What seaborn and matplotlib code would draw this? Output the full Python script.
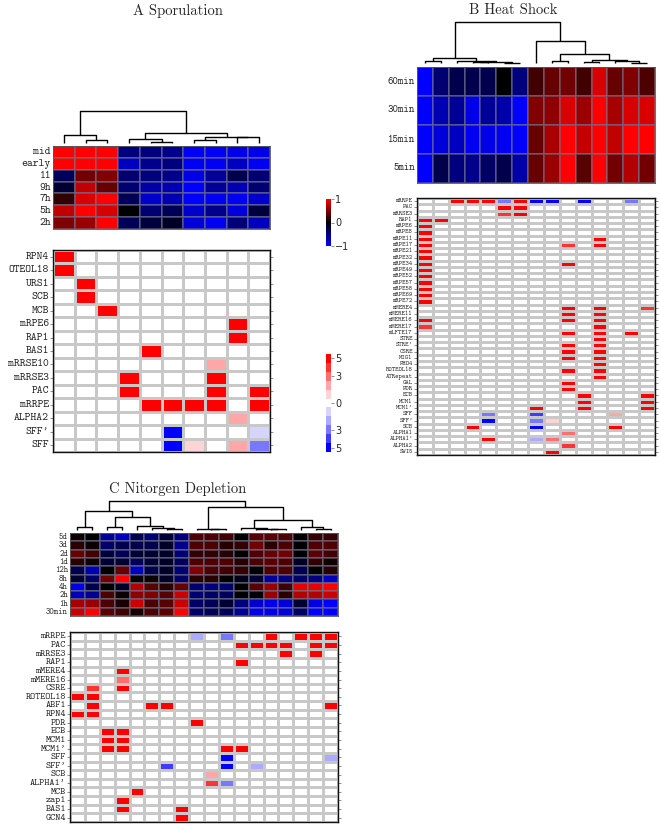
import numpy as np
import pandas as pd
import matplotlib
matplotlib.use("Agg")
import matplotlib.pyplot as plt
import seaborn as sns
from matplotlib.colors import LinearSegmentedColormap, ListedColormap

# ---------------- data ----------------
A_title = "A Sporulation"
A_rows = ["mid", "early", "11", "9h", "7h", "5h", "2h"]
A_expr = [
    [1, 1, 1, -0.5, -0.5, -0.55, -0.95, -0.95, -0.9, -0.9],
    [1, 1, 1, -0.75, -0.55, -0.5, -0.95, -0.95, -0.75, -0.95],
    [-0.35, 0.45, 0.5, -0.45, -0.5, -0.55, -0.9, -0.6, -0.3, -0.45],
    [-0.2, 0.75, 0.4, -0.45, -0.65, -0.7, -1, -0.6, -0.7, -0.45],
    [0.2, 0.85, 1, -0.35, -0.8, -0.7, -1, -0.95, -0.95, -0.8],
    [0.75, 1, 0.85, 0.0, -0.45, -0.35, -0.8, -0.55, -0.85, -0.25],
    [0.5, 0.6, 1, -0.35, -0.25, -0.15, -0.85, -0.95, -0.5, -0.75],
]
A_link_left = [1, 0, 4, 3, 6, 8, 14, 13, 11]
A_link_right = [2, 10, 5, 12, 7, 9, 15, 16, 17]
A_link_height = [9, 24, 3, 12, 9, 17, 19, 29, 94]
A_motifs = ["RPN4", "OTEOL18", "URS1", "SCB", "MCB", "mRPE6", "RAP1", "BAS1",
            "mRRSE10", "mRRSE3", "PAC", "mRRPE", "ALPHA2", "SFF'", "SFF"]
A_hits = [("RPN4", 0, 5), ("OTEOL18", 0, 5), ("URS1", 1, 5), ("SCB", 1, 5),
          ("MCB", 2, 5), ("mRPE6", 8, 5), ("RAP1", 8, 5), ("BAS1", 4, 5),
          ("mRRSE10", 7, 2), ("mRRSE3", 3, 5), ("mRRSE3", 7, 5),
          ("PAC", 3, 5), ("PAC", 7, 5), ("PAC", 9, 5),
          ("mRRPE", 4, 5), ("mRRPE", 5, 5), ("mRRPE", 6, 5), ("mRRPE", 7, 5), ("mRRPE", 9, 5),
          ("ALPHA2", 8, 2), ("SFF'", 5, -5), ("SFF'", 9, -1),
          ("SFF", 5, -5), ("SFF", 6, 1), ("SFF", 8, 2), ("SFF", 9, -3)]

B_title = "B Heat Shock"
B_rows = ["60min", "30min", "15min", "5min"]
B_expr = [
    [-1, -0.45, -0.3, -0.3, -0.3, 0, -0.5, 0.25, 0.4, 0.45, 0.25, 0.85, 0.4, 0.5, 0.3],
    [-1, -0.7, -0.6, -0.9, -0.6, -0.65, -1, 0.5, 0.55, 0.85, 0.6, 1, 0.65, 0.85, 0.85],
    [-1, -0.85, -0.75, -0.95, -0.9, -0.95, -1, 0.4, 0.65, 1, 0.75, 1, 0.75, 1, 1],
    [-1, -0.3, -0.5, -0.55, -0.4, -0.3, -0.65, 0.4, 0.6, 1, 0.35, 1, 0.45, 0.7, 0.45],
]
B_link_left = [0, 3, 5, 16, 2, 15, 8, 10, 13, 12, 22, 21, 7, 20]
B_link_right = [1, 4, 6, 17, 18, 19, 9, 11, 14, 23, 24, 25, 26, 27]
B_link_height = [5, 2, 1, 3, 5, 15, 5, 3, 1, 5, 9, 27, 65, 122]
B_motifs = ["mRRPE", "PAC", "mRRSE3", "RAP1", "mRPE6", "mRPE8", "mRPE11", "mRPE17",
            "mRPE21", "mRPE32", "mRPE34", "mRPE49", "mRPE52", "mRPE57", "mRPE58",
            "mRPE69", "mRPE72", "mMERE4", "mMERE11", "mMERE16", "mMERE17", "mLFTE17",
            "STRE", "STRE'", "CSRE", "MIG1", "PHO4", "ROTEOL18", "ATRepeat", "GAL",
            "PDR", "ECB", "MCM1", "MCM1'", "SFF", "SFF'", "SCB", "ALPHA1", "ALPHA1'",
            "ALPHA2", "SWI5"]
B_hits = [("mRRPE", 2, 5), ("mRRPE", 3, 5), ("mRRPE", 4, 5), ("mRRPE", 5, -3), ("mRRPE", 6, 5),
          ("mRRPE", 7, -5), ("mRRPE", 8, -5), ("mRRPE", 10, -5), ("mRRPE", 13, -3),
          ("PAC", 5, 5), ("PAC", 6, 5), ("mRRSE3", 5, 4), ("mRRSE3", 6, 5),
          ("RAP1", 0, 5), ("RAP1", 1, 5),
          ("mRPE6", 0, 5), ("mRPE8", 0, 5), ("mRPE11", 0, 5), ("mRPE11", 11, 5),
          ("mRPE17", 0, 5), ("mRPE17", 9, 4), ("mRPE17", 11, 5),
          ("mRPE21", 0, 5), ("mRPE32", 0, 5), ("mRPE34", 0, 5), ("mRPE34", 9, 5),
          ("mRPE49", 0, 5), ("mRPE52", 0, 5), ("mRPE57", 0, 5), ("mRPE58", 0, 5),
          ("mRPE69", 0, 5), ("mRPE72", 0, 5),
          ("mMERE4", 9, 5), ("mMERE4", 11, 5), ("mMERE4", 14, 4),
          ("mMERE11", 9, 5), ("mMERE11", 11, 5),
          ("mMERE16", 0, 5), ("mMERE16", 9, 5), ("mMERE16", 11, 5),
          ("mMERE17", 0, 4), ("mMERE17", 11, 5),
          ("mLFTE17", 9, 5), ("mLFTE17", 11, 5), ("mLFTE17", 13, 5),
          ("STRE", 11, 5), ("STRE'", 9, 5), ("STRE'", 11, 5),
          ("CSRE", 9, 5), ("CSRE", 11, 5), ("MIG1", 9, 5), ("MIG1", 11, 5),
          ("PHO4", 11, 5), ("ROTEOL18", 9, 5), ("ROTEOL18", 11, 5),
          ("ATRepeat", 11, 5), ("GAL", 9, 5), ("PDR", 9, 5),
          ("ECB", 10, 5), ("ECB", 14, 5), ("MCM1", 10, 5), ("MCM1", 14, 5),
          ("MCM1'", 7, 5), ("MCM1'", 10, 5), ("MCM1'", 14, 5),
          ("SFF", 4, -3), ("SFF", 7, -4), ("SFF", 12, 2),
          ("SFF'", 4, -5), ("SFF'", 7, -3), ("SFF'", 8, 1),
          ("SCB", 3, 5), ("SCB", 7, -5), ("SCB", 12, 5),
          ("ALPHA1", 9, 3), ("ALPHA1'", 4, 5), ("ALPHA1'", 7, -2), ("ALPHA1'", 8, 3),
          ("ALPHA2", 9, 4), ("SWI5", 8, 5)]

C_title = "C Nitorgen Depletion"
C_rows = ["5d", "3d", "2d", "1d", "12h", "8h", "4h", "2h", "1h", "30min"]
C_expr = [
    [0.05, 0, -0.6, -0.75, -0.3, -0.45, -0.2, -0.5, 0.3, 0.3, 0.25, 0, 0.35, 0.35, 0.3, 0, 0.2, 0.2],
    [0.15, 0.05, -0.4, -0.3, -0.3, -0.3, -0.15, -0.55, 0.3, 0.3, 0.15, 0.2, 0.45, 0.15, 0.3, 0, 0.3, 0.3],
    [0.4, 0.25, -0.25, -0.35, -0.2, -0.2, -0.15, -0.45, 0.2, 0.2, 0.15, 0.0, 0.3, 0.4, 0.45, 0, 0.35, 0.25],
    [0.15, 0.05, -0.2, -0.2, -0.35, -0.2, -0.15, -0.35, 0.3, 0.3, 0.3, 0.15, 0.3, 0.35, 0.3, -0.15, 0.2, 0.05],
    [-0.3, -0.7, 0, 0.4, -0.75, -0.3, -0.15, -0.45, 0.5, 0.3, 0.25, 0.2, 0, 0.3, 0.3, -0.3, 0, 0.15],
    [-0.2, -0.4, 0.45, 1, 0, 0.05, -0.15, -0.4, 0.15, 0.15, 0, -0.1, -0.2, -0.6, -0.5, -0.4, -0.5, -0.75],
    [-0.9, -0.3, 0, -0.15, 0.7, 0.35, 0.15, 0.4, -0.45, -0.5, -0.45, 0, 0.35, 0.6, 0.25, 0.9, 0.9, 1],
    [-0.7, -0.55, 0.3, 0.05, 0.55, 0.5, 0.35, 0.8, -0.45, -0.4, -0.35, 0, 0, 0.6, 0.15, 0.7, 0.7, 0.8],
    [0.65, 0.6, 0.3, 0.1, 0.8, 0.3, 0.35, 0.8, -0.4, -0.35, -0.2, -0.5, -0.8, -0.9, -0.85, -0.2, -0.9, -1],
    [0.8, 1, 0.35, 0.25, 0.1, 0.3, 0.35, 1, -0.4, -0.35, -0.35, -0.6, -0.9, -0.9, -0.85, -0.4, -1, -1],
]
C_link_left = [0, 2, 6, 5, 4, 19, 18, 9, 8, 13, 12, 11, 16, 15, 29, 26, 24]
C_link_right = [1, 3, 7, 20, 21, 22, 23, 10, 25, 14, 27, 28, 17, 30, 31, 32, 33]
C_link_height = [8, 8, 2, 5, 11, 38, 56, 2, 3, 2, 4, 6, 3, 10, 30, 68, 85]
C_motifs = ["mRRPE", "PAC", "mRRSE3", "RAP1", "mMERE4", "mMERE16", "CSRE", "ROTEOL18",
            "ABF1", "RPN4", "PDR", "ECB", "MCM1", "MCM1'", "SFF", "SFF'", "SCB",
            "ALPHA1'", "MCB", "zap1", "BAS1", "GCN4"]
C_hits = [("mRRPE", 8, -2), ("mRRPE", 10, -3), ("mRRPE", 13, 5), ("mRRPE", 15, 5),
          ("mRRPE", 16, 5), ("mRRPE", 17, 5),
          ("PAC", 11, 5), ("PAC", 12, 5), ("PAC", 13, 5), ("PAC", 14, 5), ("PAC", 16, 5), ("PAC", 17, 5),
          ("mRRSE3", 14, 5), ("mRRSE3", 16, 5), ("RAP1", 11, 5),
          ("mMERE4", 3, 5), ("mMERE16", 3, 3), ("CSRE", 1, 4), ("CSRE", 3, 5),
          ("ROTEOL18", 0, 5), ("ROTEOL18", 1, 5),
          ("ABF1", 1, 5), ("ABF1", 5, 5), ("ABF1", 6, 5), ("ABF1", 17, 5),
          ("RPN4", 0, 5), ("RPN4", 1, 5), ("PDR", 8, 5),
          ("ECB", 2, 5), ("ECB", 3, 5), ("MCM1", 2, 5), ("MCM1", 3, 5),
          ("MCM1'", 2, 5), ("MCM1'", 3, 5), ("MCM1'", 10, 5), ("MCM1'", 11, 5),
          ("SFF", 10, -5), ("SFF", 17, -2),
          ("SFF'", 6, -4), ("SFF'", 10, -5), ("SFF'", 12, -2),
          ("SCB", 9, 2), ("ALPHA1'", 9, 4), ("ALPHA1'", 10, -3),
          ("MCB", 4, 5), ("zap1", 3, 5), ("BAS1", 3, 5), ("BAS1", 7, 5), ("GCN4", 7, 5)]

expr_ticks = [1, 0, -1]
expr_ticklabels = ["1", "0", "\u22121"]
motif_ticks = [5, 3, 0, -3, -5]
motif_ticklabels = ["5", "3", "0", "3", "5"]

# ---------------- styling ----------------
sns.set_style("white")
plt.rcParams["font.family"] = ["DejaVu Sans"]
MONO = ["cmtt10", "DejaVu Sans Mono"]
SERIF = ["cmr10", "DejaVu Serif"]

W, H = 661, 827
fig = plt.figure(figsize=(W / 100, H / 100), dpi=100)


def add_ax(x0, y0, x1, y1):
    return fig.add_axes([x0 / W, 1 - y1 / H, (x1 - x0) / W, (y1 - y0) / H])


expr_cmap = LinearSegmentedColormap.from_list("bkr", ["#0000ff", "#000000", "#ff0000"])
motif_cmap = ListedColormap([
    (0.0, 0.0, 1.0), (0.24, 0.24, 1.0), (0.47, 0.47, 1.0), (0.67, 0.67, 1.0), (0.83, 0.83, 1.0),
    (1.0, 1.0, 1.0),
    (1.0, 0.83, 0.83), (1.0, 0.65, 0.65), (1.0, 0.43, 0.43), (1.0, 0.2, 0.2), (1.0, 0.0, 0.0)])


def style_labels(ax, fs):
    for t in ax.get_yticklabels():
        t.set_fontfamily(MONO)
        t.set_fontsize(fs)
        t.set_rotation(0)


def expr_heat(ax, data, rows, fs):
    df = pd.DataFrame(data, index=rows)
    sns.heatmap(df, ax=ax, cmap=expr_cmap, vmin=-1, vmax=1, cbar=False,
                xticklabels=False, yticklabels=rows, linewidths=0.3,
                linecolor=(0.45, 0.45, 0.55, 0.5))
    ax.tick_params(axis="y", length=0, pad=1.5)
    style_labels(ax, fs)
    for s in ax.spines.values():
        s.set_visible(True)
        s.set_color("#555555")
        s.set_linewidth(0.6)
    return ax.collections[0]


def motif_heat(ax, rows, ncols, hits, fs, lw):
    df = pd.DataFrame(0.0, index=rows, columns=range(ncols))
    for r, c, v in hits:
        df.loc[r, c] = v
    sns.heatmap(df, ax=ax, cmap=motif_cmap, vmin=-5.5, vmax=5.5, cbar=False,
                xticklabels=False, yticklabels=rows, linewidths=lw, linecolor="#c8c8c8")
    ax.tick_params(axis="y", left=True, right=True, length=2, width=0.5,
                   color="#666666", pad=1)
    style_labels(ax, fs)
    for s in ax.spines.values():
        s.set_visible(True)
        s.set_color("#111111")
        s.set_linewidth(1.0)
    return ax.collections[0]


def dendro(ax, n, left, right, height):
    pos = {i: i + 0.5 for i in range(n)}
    hgt = {i: 0.0 for i in range(n)}
    for k, (a, b, h) in enumerate(zip(left, right, height)):
        xa, xb = pos[a], pos[b]
        ax.plot([xa, xa, xb, xb], [hgt[a], h, h, hgt[b]], color="black", lw=1.0,
                clip_on=False, solid_capstyle="butt")
        pos[n + k] = (xa + xb) / 2
        hgt[n + k] = h
    ax.set_xlim(0, n)
    ax.set_ylim(0, max(height))
    ax.axis("off")


def colorbar(mappable, cax, ticks, labels):
    cb = fig.colorbar(mappable, cax=cax, ticks=ticks)
    cb.outline.set_visible(False)
    cb.ax.set_yticklabels(labels)
    cb.ax.tick_params(length=2, width=0.5, labelsize=7, pad=1, color="#666666")
    return cb


# ---------------- panel A ----------------
axA_d = add_ax(53, 111, 270, 143)
dendro(axA_d, 10, A_link_left, A_link_right, A_link_height)
axA_h = add_ax(53, 146, 270, 229)
mA = expr_heat(axA_h, A_expr, A_rows, 8)
axA_m = add_ax(53, 250, 270, 452)
mAm = motif_heat(axA_m, A_motifs, 10, A_hits, 8, 0.9)
colorbar(mA, add_ax(326, 199, 331, 246), expr_ticks, expr_ticklabels)
colorbar(mAm, add_ax(326, 354, 331, 452), motif_ticks, motif_ticklabels)
fig.text(178 / W, 1 - 11 / H, A_title, ha="center", va="center", fontsize=10.5, family=SERIF)

# ---------------- panel B ----------------
axB_d = add_ax(417, 22, 655, 63)
dendro(axB_d, 15, B_link_left, B_link_right, B_link_height)
axB_h = add_ax(417, 67, 655, 183)
expr_heat(axB_h, B_expr, B_rows, 7.5)
axB_m = add_ax(417, 198, 655, 455)
motif_heat(axB_m, B_motifs, 15, B_hits, 4.6, 0.9)
fig.text(513 / W, 1 - 10 / H, B_title, ha="center", va="center", fontsize=10.5, family=SERIF)

# ---------------- panel C ----------------
axC_d = add_ax(70, 501, 338, 530)
dendro(axC_d, 18, C_link_left, C_link_right, C_link_height)
axC_h = add_ax(70, 533, 338, 616)
expr_heat(axC_h, C_expr, C_rows, 6.1)
axC_m = add_ax(70, 632, 338, 822)
motif_heat(axC_m, C_motifs, 18, C_hits, 7.0, 0.9)
fig.text(178 / W, 1 - 489 / H, C_title, ha="center", va="center", fontsize=10.5, family=SERIF)

fig.savefig("out.png", dpi=100)
